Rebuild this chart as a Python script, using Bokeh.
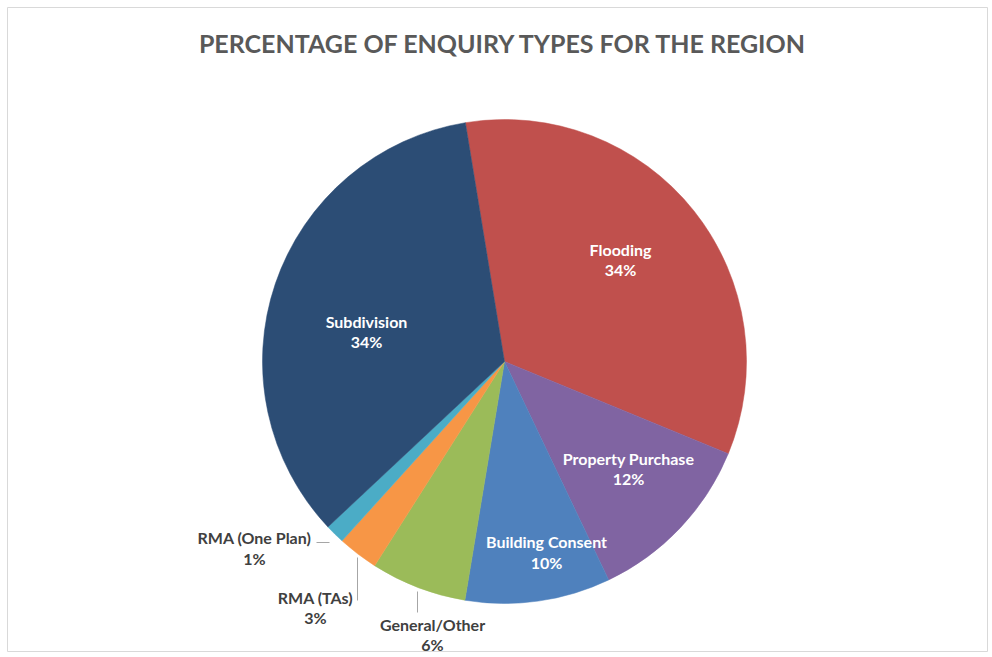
import math
from bokeh.plotting import figure
from bokeh.models import Range1d
from bokeh.core.properties import value
from bokeh.embed import file_html
from bokeh.resources import INLINE

# ---- data ----
categories = ["Flooding", "Property Purchase", "Building Consent", "General/Other",
              "RMA (TAs)", "RMA (One Plan)", "Subdivision"]
percentages = [33.8, 11.7, 9.7, 6.4, 2.7, 1.3, 34.4]
colors = ["#C0504D", "#8064A2", "#4F81BD", "#9BBB59", "#F79646", "#4BACC6", "#2C4D75"]
title_text = "PERCENTAGE OF ENQUIRY TYPES FOR THE REGION"

# ---- layout (image pixel coords) ----
W, H = 992, 657
def X(px): return px
def Y(py): return H - py

CX, CY, R = X(504), Y(361), 242
FIRST_ANGLE = -9.3  # degrees clockwise from 12 o'clock

# label anchor positions (name line, pct line) in image pixels
label_layout = {
    "Flooding": ((620, 249), (620, 269), "white"),
    "Property Purchase": ((628, 458), (628, 478), "white"),
    "Building Consent": ((546, 541), (546, 562), "white"),
    "General/Other": ((432, 624), (432, 644), "#404040"),
    "RMA (TAs)": ((315, 597), (315, 617), "#404040"),
    "RMA (One Plan)": ((254, 537), (254, 558), "#404040"),
    "Subdivision": ((366, 321), (366, 341), "white"),
}
leaders = [((316, 542), (329, 542)), ((357, 557), (357, 600)), ((417, 591), (417, 612))]

p = figure(width=W, height=H, output_backend="svg", toolbar_location=None,
           x_range=Range1d(0, W), y_range=Range1d(0, H),
           x_axis_location=None, y_axis_location=None, min_border=0)
p.grid.visible = False
p.outline_line_color = None
p.background_fill_color = "white"
p.border_fill_color = "white"

# chart-area border
p.quad(left=[X(7)], right=[X(987)], top=[Y(7)], bottom=[Y(651)],
       fill_color=None, line_color="#D9D9D9", line_width=1)

total = sum(percentages)
acc = FIRST_ANGLE
starts, ends = [], []
for v in percentages:
    a0 = acc
    a1 = acc + v / total * 360.0
    acc = a1
    # convert clockwise-from-top to bokeh anticlockwise-from-x
    starts.append(math.radians(90 - a1))
    ends.append(math.radians(90 - a0))

p.wedge(x=[CX] * len(categories), y=[CY] * len(categories), radius=R,
        start_angle=starts, end_angle=ends, direction="anticlock",
        fill_color=colors, line_color=colors, line_width=0.5)

# leader lines
for (x0, y0), (x1, y1) in leaders:
    p.line([X(x0), X(x1)], [Y(y0), Y(y1)], line_color="#A6A6A6", line_width=1)

FONT = value("Lato")
for cat, pct in zip(categories, percentages):
    (nx, ny), (qx, qy), col = label_layout[cat]
    p.text(x=[X(nx)], y=[Y(ny)], text=[cat], text_font=FONT, text_font_style="bold",
           text_font_size="16px", text_color=col, text_align="center", text_baseline="middle")
    p.text(x=[X(qx)], y=[Y(qy)], text=[f"{round(pct)}%"], text_font=FONT, text_font_style="bold",
           text_font_size="16px", text_color=col, text_align="center", text_baseline="middle")

p.text(x=[X(503)], y=[Y(42)], text=[title_text], text_font=FONT, text_font_style="bold",
       text_font_size="25px", text_color="#595959", text_align="center", text_baseline="middle")

open("out.html", "w").write(file_html(p, INLINE))
